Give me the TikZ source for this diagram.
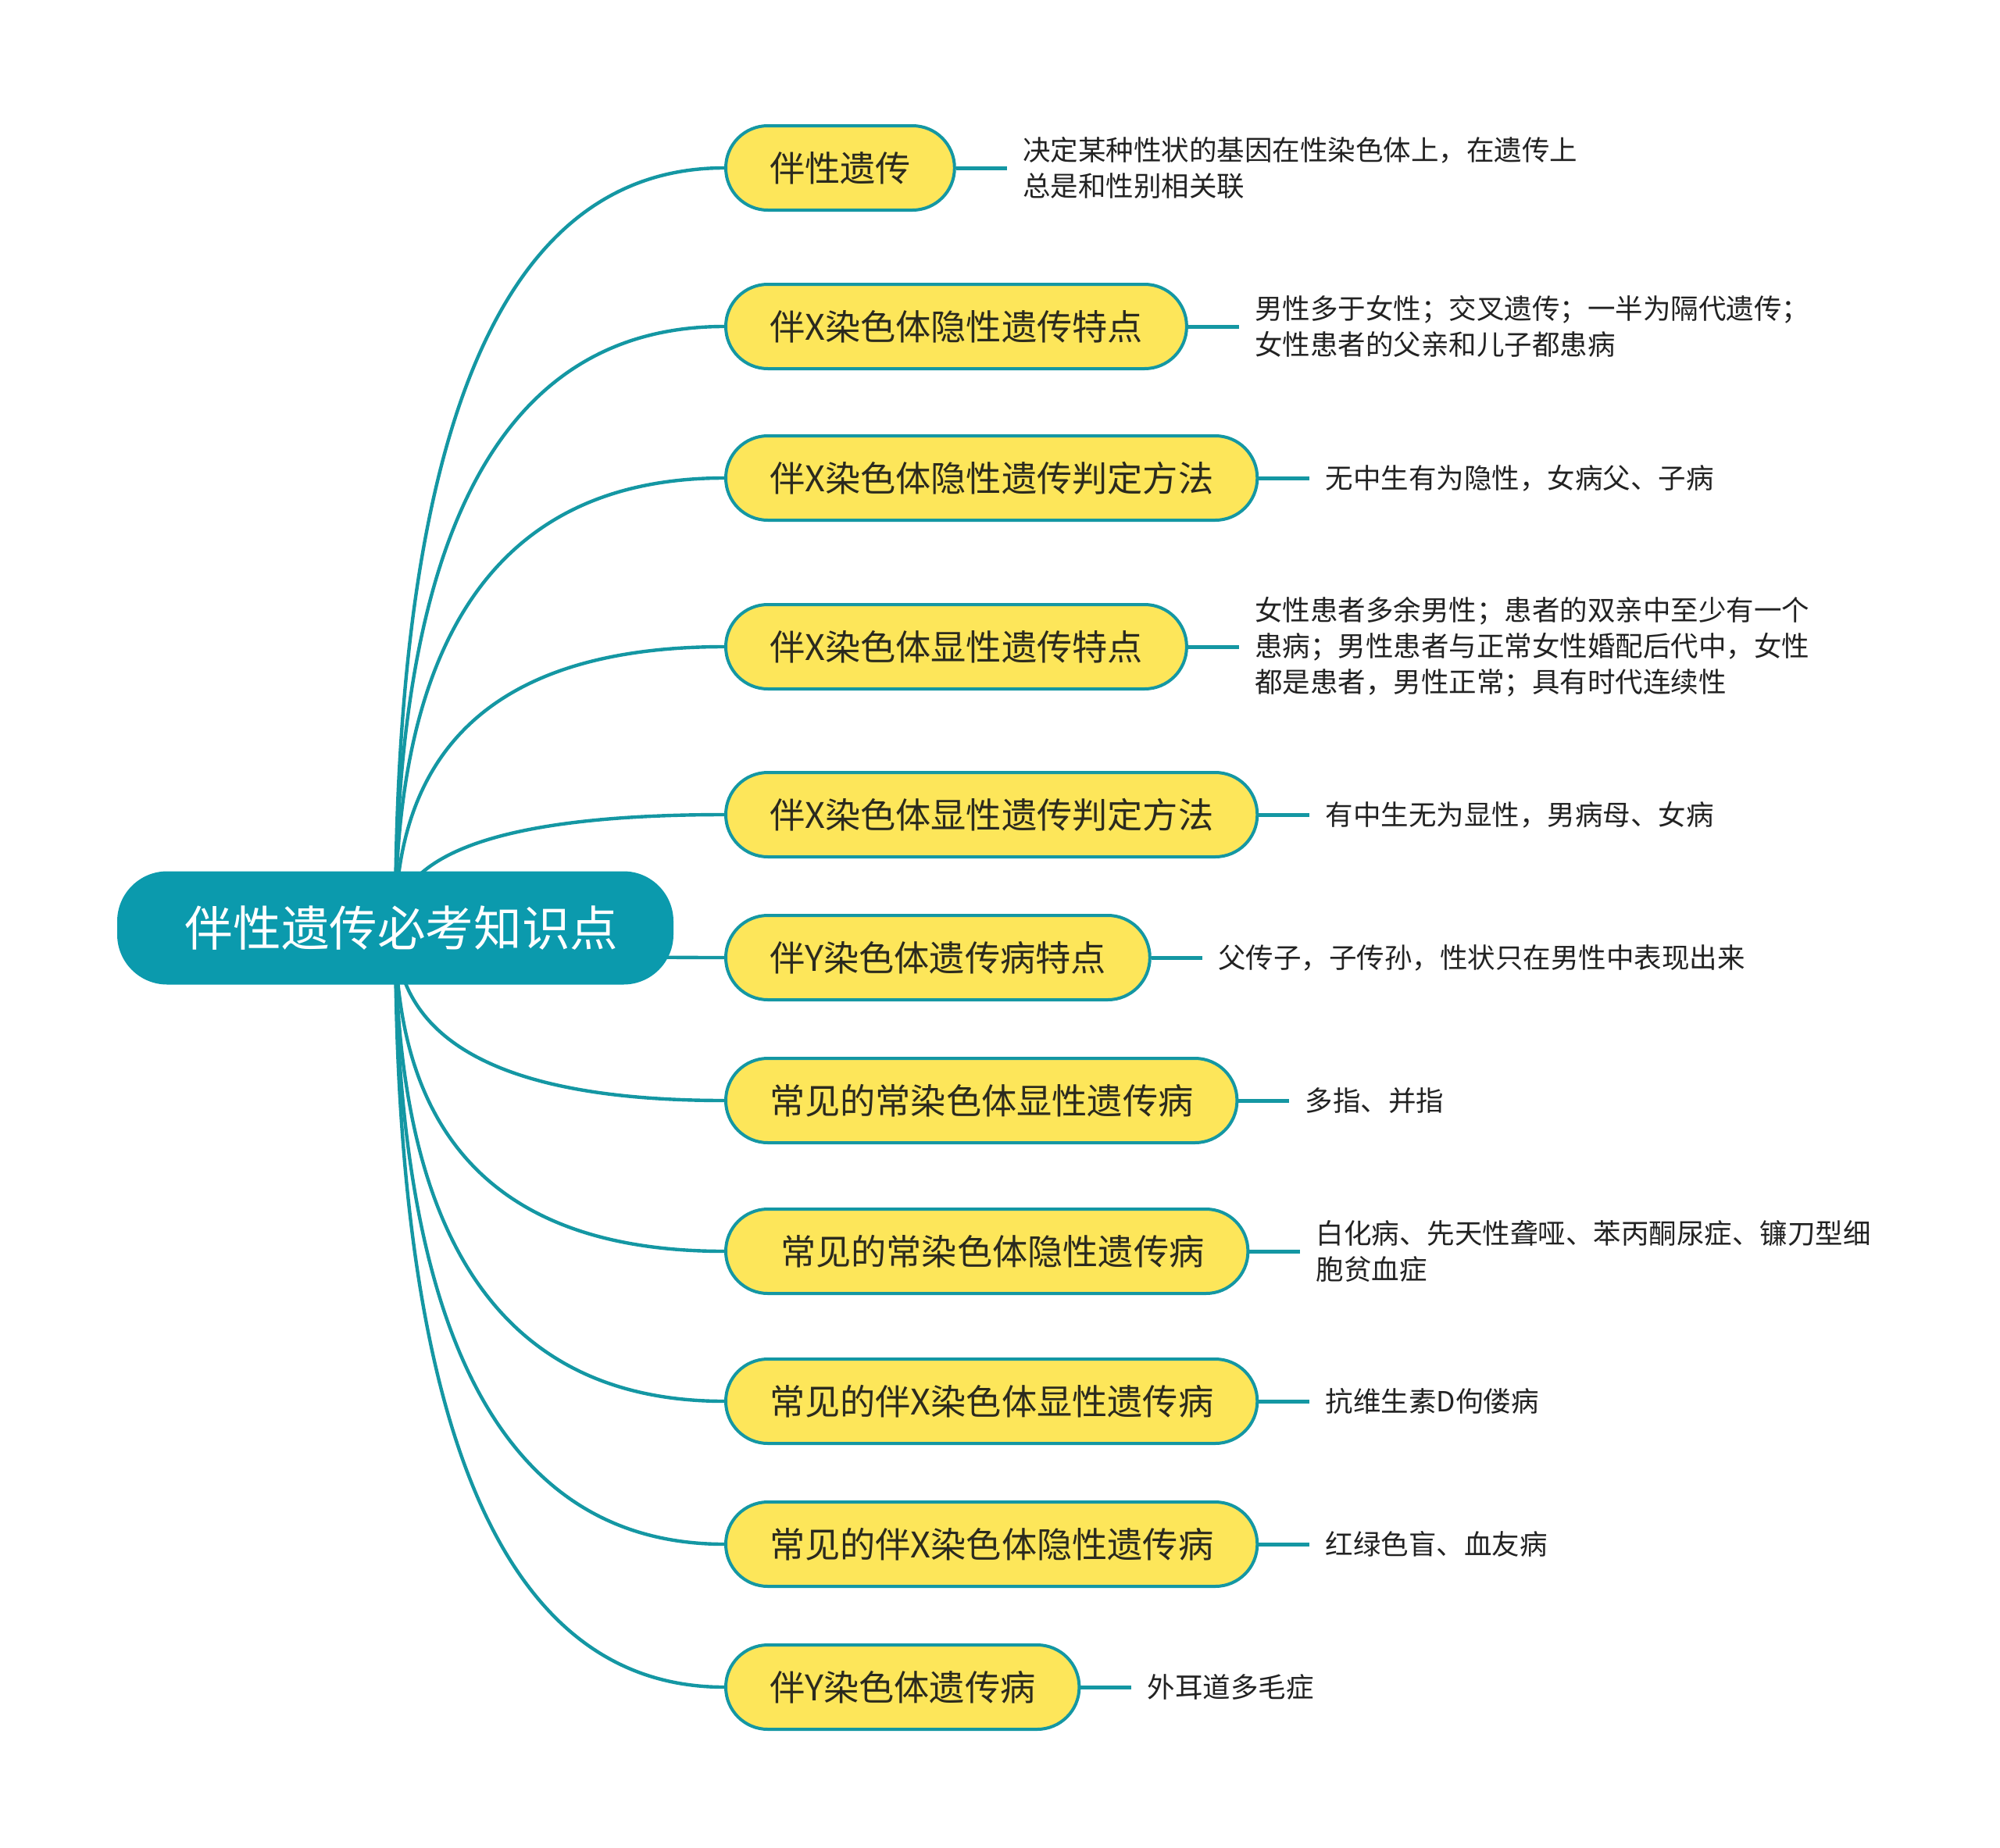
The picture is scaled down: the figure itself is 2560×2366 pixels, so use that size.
\documentclass[tikz,border=0pt]{standalone}
\usepackage{fontspec}
\setmainfont{Noto Sans CJK SC}
\usetikzlibrary{positioning,calc,backgrounds}

\definecolor{mapteal}{HTML}{0B9AAD}
\definecolor{mapedge}{HTML}{1497A3}
\definecolor{mapyellow}{HTML}{FDE65A}
\definecolor{topicink}{HTML}{2B2A1E}
\definecolor{noteink}{HTML}{222222}

\tikzset{
  rootbox/.style={fill=mapteal, text=white, rounded corners=32pt, minimum height=72.5pt,
    minimum width=356pt, font=\fontsize{30.8}{36}\selectfont},
  topic/.style={draw=mapedge, line width=2pt, fill=mapyellow, rounded corners=26.9pt,
    minimum height=54pt, inner xsep=28pt, text=topicink, anchor=west,
    font=\fontsize{22.6}{27}\selectfont},
  note/.style={inner xsep=0pt, align=left, text=noteink, font=\fontsize{17.75}{22.9}\selectfont},
  branch/.style={mapedge, line width=2.2pt},
  twig/.style={mapedge, line width=2.5pt, shorten >=10pt},
}

\begin{document}
\begin{tikzpicture}[x=0.5pt, y=-0.5pt, node distance=42.5pt]
  \useasboundingbox (0,0) rectangle (2560,2366);

  % centre topic
  \node[rootbox] (root) at (506,1188) {\hspace{8pt}伴性遗传必考知识点};

  % main branches
  \node[topic] (c1)  at (927,215)  {伴性遗传};
  \node[topic] (c2)  at (927,418)  {伴X染色体隐性遗传特点};
  \node[topic] (c3)  at (927,612)  {伴X染色体隐性遗传判定方法};
  \node[topic] (c4)  at (927,828)  {伴X染色体显性遗传特点};
  \node[topic] (c5)  at (927,1043) {伴X染色体显性遗传判定方法};
  \node[topic] (c6)  at (927,1226) {伴Y染色体遗传病特点};
  \node[topic] (c7)  at (927,1409) {常见的常染色体显性遗传病};
  \node[topic] (c8)  at (927,1602) {\hspace{7pt}常见的常染色体隐性遗传病};
  \node[topic] (c9)  at (927,1794) {常见的伴X染色体显性遗传病};
  \node[topic] (c10) at (927,1977) {常见的伴X染色体隐性遗传病};
  \node[topic] (c11) at (927,2160) {伴Y染色体遗传病};

  % notes
  \node[note, right=of c1]  (n1)  {决定某种性状的基因在性染色体上，在遗传上\\总是和性别相关联};
  \node[note, right=of c2]  (n2)  {男性多于女性；交叉遗传；一半为隔代遗传；\\女性患者的父亲和儿子都患病};
  \node[note, right=of c3]  (n3)  {无中生有为隐性，女病父、子病};
  \node[note, right=of c4]  (n4)  {女性患者多余男性；患者的双亲中至少有一个\\患病；男性患者与正常女性婚配后代中，女性\\都是患者，男性正常；具有时代连续性};
  \node[note, right=of c5]  (n5)  {有中生无为显性，男病母、女病};
  \node[note, right=of c6]  (n6)  {父传子，子传孙，性状只在男性中表现出来};
  \node[note, right=of c7]  (n7)  {多指、并指};
  \node[note, right=of c8]  (n8)  {白化病、先天性聋哑、苯丙酮尿症、镰刀型细\\胞贫血症};
  \node[note, right=of c9]  (n9)  {抗维生素D佝偻病};
  \node[note, right=of c10] (n10) {红绿色盲、血友病};
  \node[note, right=of c11] (n11) {外耳道多毛症};

  % curves from the centre, kept behind the boxes
  \begin{pgfonlayer}{background}
    \foreach \c in {c1,c2,c3,c4,c5,c6,c7,c8,c9,c10,c11}
      \draw[branch] (root.center)
        .. controls ($(root.center)!2/3!(root.center |- \c.west)$)
        and ($(\c.west)!2/3!(root.center |- \c.west)$) .. (\c.west);
  \end{pgfonlayer}

  \foreach \i in {1,...,11}
    \draw[twig] (c\i.east) -- (n\i.west);
\end{tikzpicture}
\end{document}
